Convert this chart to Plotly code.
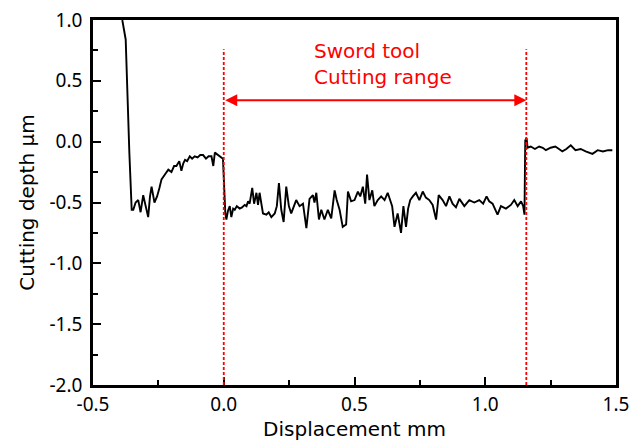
import plotly.graph_objects as go

# Profile data (displacement mm, cutting depth µm)
disp = [-0.388, -0.375, -0.361, -0.352, -0.346, -0.337, -0.327, -0.318, -0.308, -0.298, -0.289, -0.282, -0.276,
        -0.265, -0.255, -0.246, -0.238, -0.225, -0.212, -0.200, -0.190, -0.181, -0.170, -0.162, -0.155, -0.148,
        -0.140, -0.130, -0.121, -0.111, -0.100, -0.090, -0.079, -0.068, -0.058, -0.047, -0.040, -0.034, -0.022,
        -0.009, -0.003,
        0.006, 0.010, 0.016, 0.023, 0.029, 0.036, 0.042, 0.050, 0.061, 0.070, 0.080, 0.087, 0.093, 0.099, 0.109,
        0.116, 0.125, 0.131, 0.137, 0.150, 0.163, 0.172, 0.182, 0.195, 0.203, 0.211, 0.220, 0.229, 0.239, 0.249,
        0.258, 0.268, 0.277, 0.290, 0.303, 0.316, 0.328, 0.341, 0.347, 0.354, 0.364, 0.373, 0.385, 0.398, 0.411,
        0.424, 0.432, 0.443, 0.455, 0.468, 0.475, 0.487, 0.500, 0.513, 0.522, 0.532, 0.541, 0.548, 0.557, 0.568,
        0.576, 0.589, 0.602, 0.615, 0.627, 0.644, 0.653, 0.665, 0.678, 0.687, 0.697, 0.705, 0.713, 0.723, 0.735,
        0.748, 0.761, 0.773, 0.786, 0.799, 0.812, 0.822, 0.837, 0.850, 0.863, 0.875, 0.888, 0.901, 0.920, 0.939,
        0.958, 0.977, 0.992, 1.005, 1.015, 1.028, 1.047, 1.060, 1.079, 1.098, 1.111, 1.124, 1.137, 1.145, 1.150,
        1.153, 1.158, 1.162, 1.174, 1.190, 1.206, 1.220, 1.232, 1.250, 1.268, 1.282, 1.295, 1.310, 1.327, 1.345,
        1.365, 1.384, 1.410, 1.430, 1.450, 1.470, 1.486]
depth = [1.00, 0.84, -0.09, -0.56, -0.56, -0.50, -0.48, -0.58, -0.44, -0.55, -0.62, -0.45, -0.37,
         -0.50, -0.45, -0.38, -0.31, -0.27, -0.23, -0.25, -0.20, -0.20, -0.16, -0.24, -0.18, -0.15,
         -0.16, -0.12, -0.14, -0.12, -0.13, -0.11, -0.11, -0.14, -0.12, -0.12, -0.20, -0.09, -0.11,
         -0.13, -0.14,
         -0.59, -0.64, -0.57, -0.53, -0.62, -0.55, -0.56, -0.53, -0.55, -0.54, -0.52, -0.53, -0.49, -0.51, -0.38,
         -0.51, -0.42, -0.52, -0.42, -0.59, -0.60, -0.58, -0.62, -0.59, -0.53, -0.34, -0.56, -0.66, -0.37, -0.53,
         -0.59, -0.54, -0.48, -0.53, -0.51, -0.71, -0.47, -0.44, -0.50, -0.42, -0.64, -0.56, -0.64, -0.56, -0.63,
         -0.40, -0.48, -0.56, -0.70, -0.68, -0.41, -0.49, -0.48, -0.41, -0.45, -0.37, -0.51, -0.27, -0.48, -0.40,
         -0.53, -0.48, -0.45, -0.48, -0.42, -0.53, -0.70, -0.59, -0.75, -0.53, -0.70, -0.55, -0.48, -0.45, -0.42,
         -0.48, -0.41, -0.46, -0.48, -0.52, -0.64, -0.44, -0.48, -0.53, -0.45, -0.51, -0.54, -0.47, -0.53, -0.48,
         -0.50, -0.48, -0.51, -0.45, -0.49, -0.51, -0.60, -0.53, -0.55, -0.52, -0.48, -0.53, -0.49, -0.53, -0.60,
         0.01, 0.03, -0.05, -0.04, -0.06, -0.04, -0.05, -0.07, -0.05, -0.04, -0.06, -0.08, -0.06, -0.03, -0.07,
         -0.06, -0.08, -0.10, -0.07, -0.08, -0.07, -0.07]

x_tickvals = [-0.5, 0.0, 0.5, 1.0, 1.5]
x_ticktext = ["-0.5", "0.0", "0.5", "1.0", "1.5"]
y_tickvals = [-2.0, -1.5, -1.0, -0.5, 0.0, 0.5, 1.0]
y_ticktext = ["-2.0", "-1.5", "-1.0", "-0.5", "0.0", "0.5", "1.0"]

range_start = 0.0
range_end = 1.157
guide_top = 0.76
arrow_y = 0.34
label_x = 0.336
label_y = 0.64
label_text = "Sword tool<br>Cutting range"

red = "#ff0000"
title_font = "DejaVu Sans"
tick_font = "Noto Sans"

fig = go.Figure()
fig.add_trace(go.Scatter(x=disp, y=depth, mode="lines",
                         line=dict(color="black", width=1.9), showlegend=False))

for xv in (range_start, range_end):
    fig.add_shape(type="line", x0=xv, x1=xv, y0=-2.0, y1=guide_top, xref="x", yref="y",
                  line=dict(color=red, width=1.8, dash="3px,2px"))

fig.add_annotation(x=range_end, y=arrow_y, ax=range_start, ay=arrow_y, xref="x", yref="y",
                   axref="x", ayref="y", text="", showarrow=True, arrowhead=2, arrowsize=1.2,
                   arrowwidth=2, arrowcolor=red, arrowside="end+start", startarrowhead=2,
                   startarrowsize=1.2)
fig.add_annotation(x=label_x, y=label_y, xref="x", yref="y", text=label_text,
                   showarrow=False, xanchor="left", yanchor="middle", align="left",
                   font=dict(family=title_font, size=20, color=red))

axis_common = dict(showgrid=False, zeroline=False, showline=True, linecolor="black", linewidth=2.5,
                   mirror=True, ticks="inside", ticklen=8, tickwidth=2, tickcolor="black",
                   automargin=False,
                   tickfont=dict(family=tick_font, size=19, color="black"))

fig.update_xaxes(range=[-0.5, 1.5], tickvals=x_tickvals, ticktext=x_ticktext,
                 minor=dict(dtick=0.25, tick0=-0.5, ticks="inside", ticklen=5, tickwidth=2, tickcolor="black"),
                 title=dict(text="Displacement mm", font=dict(family=title_font, size=20, color="black"),
                            standoff=6),
                 ticklabelstandoff=0,
                 **axis_common)
fig.update_yaxes(range=[-2.0, 1.0], tickvals=y_tickvals, ticktext=y_ticktext,
                 minor=dict(dtick=0.25, tick0=-2.0, ticks="inside", ticklen=5, tickwidth=2, tickcolor="black"),
                 title=dict(text="Cutting depth μm", font=dict(family=title_font, size=20, color="black"),
                            standoff=10),
                 ticklabelstandoff=4,
                 **axis_common)

fig.update_layout(width=630, height=445, margin=dict(l=93, r=14, t=20, b=60),
                  plot_bgcolor="white", paper_bgcolor="white")

fig.write_html("out.html")
